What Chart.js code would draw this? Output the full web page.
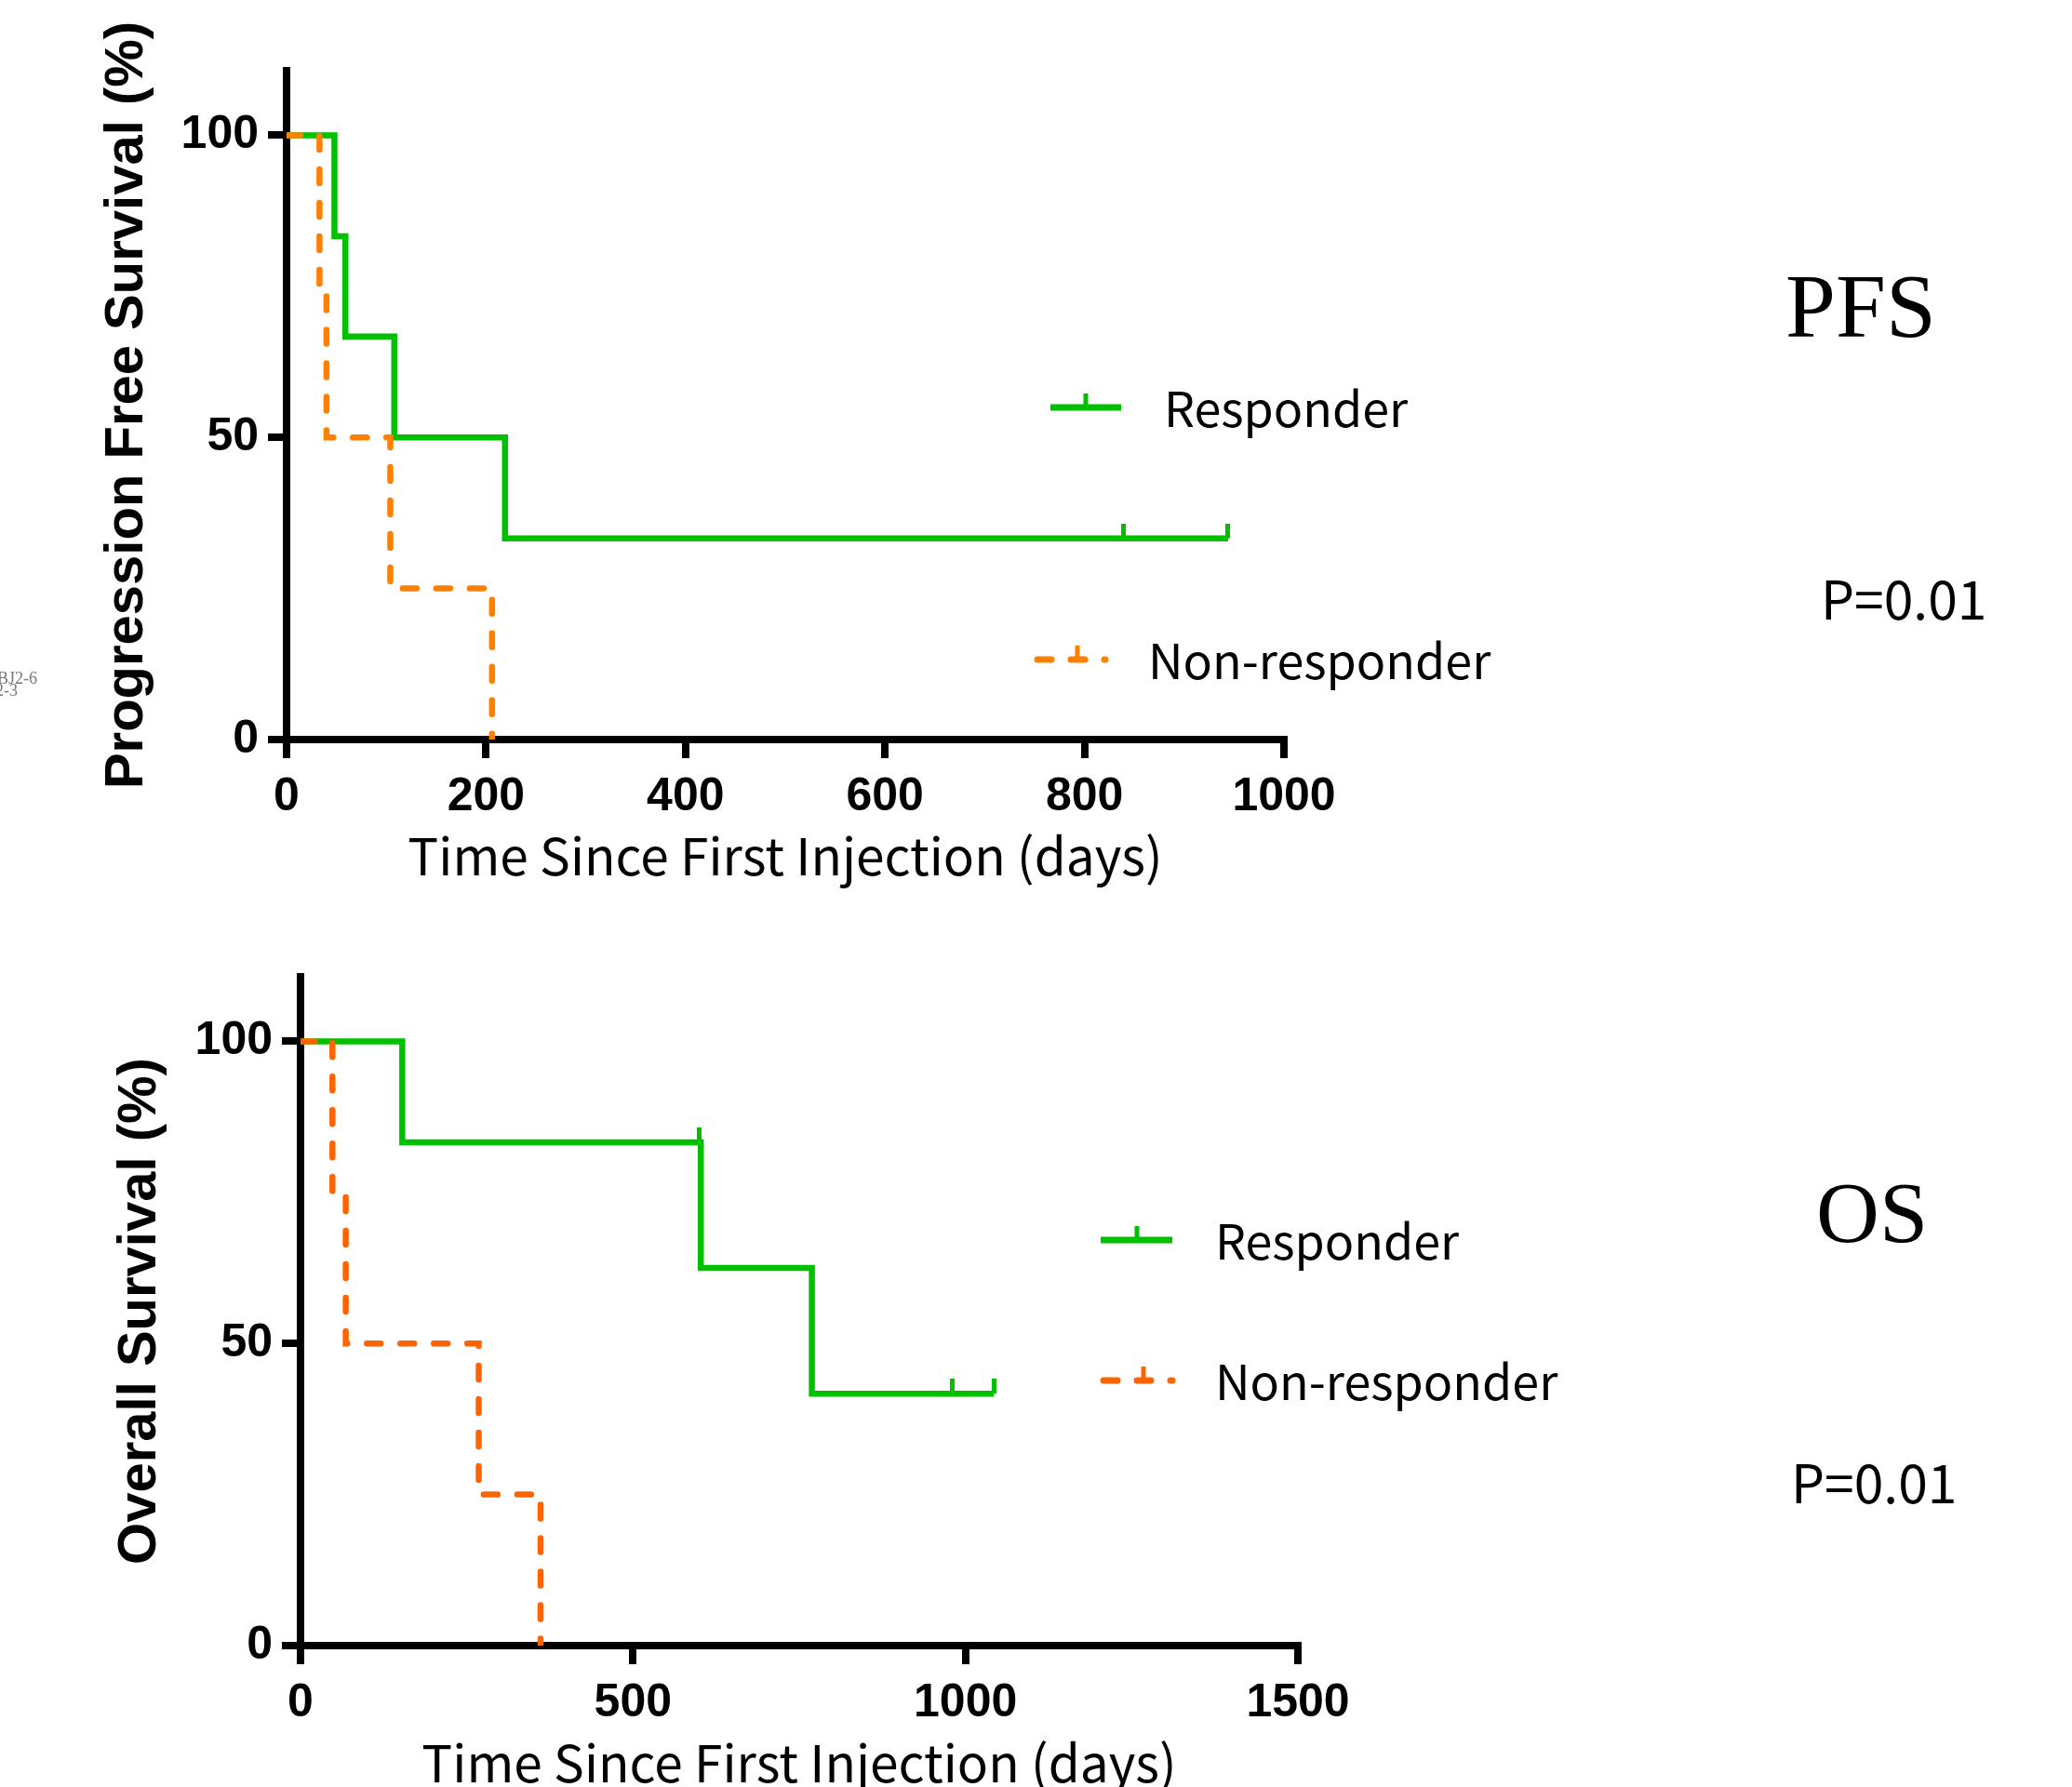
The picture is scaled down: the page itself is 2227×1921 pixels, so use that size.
<!DOCTYPE html>
<html>
<head>
<meta charset="utf-8">
<script src="https://cdn.jsdelivr.net/npm/chart.js@4.4.1/dist/chart.umd.min.js"></script>
<style>
  html, body { margin: 0; padding: 0; background: #fff; }
  #page { position: relative; width: 2227px; height: 1921px; overflow: hidden; background: #fff; }
  canvas { position: absolute; left: 0; }
</style>
</head>
<body>
<div id="page">
  <canvas id="pfs" width="2227" height="960" style="top:0px"></canvas>
  <canvas id="os" width="2227" height="961" style="top:960px"></canvas>
</div>
<script>
// tick labels
const pfsXTicks = [0, 200, 400, 600, 800, 1000];
const osXTicks = [0, 500, 1000, 1500];
const yTicks = [0, 50, 100];

// PFS - Kaplan-Meier steps (days, % surviving)
const pfsRespDays = [0, 48, 59, 108, 219, 944];
const pfsRespSurv = [100, 83.3, 66.7, 50, 33.3, 33.3];
const pfsRespCensorDays = [839, 944];
const pfsRespCensorSurv = [33.3, 33.3];
const pfsNonDays = [0, 33, 40, 104, 206];
const pfsNonSurv = [100, 75, 50, 25, 0];

// OS
const osRespDays = [0, 153, 602, 769, 1043];
const osRespSurv = [100, 83.3, 62.5, 41.7, 41.7];
const osRespCensorDays = [600, 980, 1043];
const osRespCensorSurv = [83.3, 41.7, 41.7];
const osNonDays = [0, 48, 68, 268, 361];
const osNonSurv = [100, 75, 50, 25, 0];

const GREEN = '#00c000';
const CJK = "'Noto Sans CJK JP', 'Noto Sans', sans-serif";
const SANS = "'Liberation Sans', Arial, sans-serif";
const SERIF = "'Liberation Serif', 'Times New Roman', serif";

function pts(xs, ys) {
  return xs.map((x, i) => ({ x: x, y: ys[i] }));
}

// little upward tick used for censored observations
function censorMark(color) {
  const c = document.createElement('canvas');
  c.width = 5;
  c.height = 32;
  const g = c.getContext('2d');
  g.fillStyle = color;
  g.fillRect(0, 0, 5, 16);
  return c;
}

// legend icons + free text annotations
const kmNotes = {
  id: 'kmNotes',
  afterDraw(chart, args, opts) {
    const ctx = chart.ctx;
    (opts.icons || []).forEach(it => {
      ctx.save();
      ctx.strokeStyle = it.color;
      ctx.lineWidth = 7;
      if (it.dash) {
        ctx.setLineDash([15, 21]);
        ctx.lineCap = 'round';
      }
      ctx.beginPath();
      ctx.moveTo(it.x1, it.y);
      ctx.lineTo(it.x2, it.y);
      ctx.stroke();
      ctx.fillStyle = it.color;
      ctx.fillRect(it.tx - 2.5, it.y - 15, 5, 15);
      ctx.restore();
    });
    (opts.texts || []).forEach(t => {
      ctx.save();
      ctx.font = t.font;
      ctx.fillStyle = t.color || '#000';
      ctx.textAlign = 'left';
      ctx.textBaseline = 'alphabetic';
      ctx.fillText(t.text, t.x, t.y);
      ctx.restore();
    });
  }
};

function kmChart(id, g) {
  const axisStyle = {
    grid: { display: true, drawOnChartArea: false, drawTicks: true, tickLength: 20, lineWidth: 8, color: '#000' },
    border: { display: true, color: '#000', width: 8 }
  };
  return new Chart(document.getElementById(id), {
    type: 'line',
    data: {
      datasets: [
        {
          label: 'Non-responder',
          data: pts(g.nonDays, g.nonSurv),
          borderColor: g.orange,
          borderWidth: 6.5,
          borderDash: [15, 21],
          borderCapStyle: 'round',
          stepped: 'before',
          pointRadius: 0,
          fill: false
        },
        {
          label: 'Responder censored',
          data: pts(g.censorDays, g.censorSurv),
          showLine: false,
          pointStyle: censorMark(GREEN),
          pointRadius: 7,
          pointHoverRadius: 7
        },
        {
          label: 'Responder',
          data: pts(g.respDays, g.respSurv),
          borderColor: GREEN,
          borderWidth: 6.5,
          stepped: 'before',
          pointRadius: 0,
          fill: false
        }
      ]
    },
    options: {
      responsive: false,
      animation: false,
      devicePixelRatio: 1,
      events: [],
      layout: { padding: g.padding },
      plugins: {
        legend: { display: false },
        tooltip: { enabled: false },
        kmNotes: { icons: g.icons, texts: g.texts }
      },
      scales: {
        x: Object.assign({
          type: 'linear',
          min: 0,
          max: g.xTicks[g.xTicks.length - 1],
          afterBuildTicks: s => { s.ticks = g.xTicks.map(v => ({ value: v })); },
          afterFit: s => { s.height = g.xAxisH; },
          ticks: {
            color: '#000',
            font: { family: SANS, weight: 'bold', size: 50 },
            padding: 12,
            maxRotation: 0,
            autoSkip: false,
            callback: v => String(v)
          },
          title: {
            display: true,
            text: 'Time Since First Injection (days)',
            color: '#000',
            font: { family: CJK, size: 55, lineHeight: 0.8 },
            padding: { top: 0, bottom: 0 }
          }
        }, axisStyle),
        y: Object.assign({
          type: 'linear',
          min: 0,
          max: 110.7,
          afterBuildTicks: s => { s.ticks = yTicks.map(v => ({ value: v })); },
          afterFit: s => { s.width = g.yAxisW; },
          ticks: {
            color: '#000',
            font: { family: SANS, weight: 'bold', size: 50 },
            padding: 10,
            callback: v => String(v)
          },
          title: {
            display: true,
            text: g.yTitle,
            color: '#000',
            font: { family: SANS, weight: 'bold', size: 58, lineHeight: 1 },
            padding: { top: g.yTitlePad, bottom: 0 }
          }
        }, axisStyle)
      }
    },
    plugins: [kmNotes]
  });
}

kmChart('pfs', {
  respDays: pfsRespDays, respSurv: pfsRespSurv,
  censorDays: pfsRespCensorDays, censorSurv: pfsRespCensorSurv,
  nonDays: pfsNonDays, nonSurv: pfsNonSurv,
  orange: '#ff8000',
  xTicks: pfsXTicks,
  yTitle: 'Progression Free Survival (%)',
  yTitlePad: 108,
  yAxisW: 308,
  xAxisH: 147,
  padding: { left: 0, top: 76, right: 847, bottom: 18 },
  icons: [
    { x1: 1129, x2: 1205, y: 438, tx: 1167, color: GREEN, dash: false },
    { x1: 1115, x2: 1188, y: 709, tx: 1158, color: '#ff8000', dash: true }
  ],
  texts: [
    { text: 'Responder', x: 1251, y: 459, font: '52px ' + CJK },
    { text: 'Non-responder', x: 1234, y: 730, font: '52px ' + CJK },
    { text: 'PFS', x: 1919, y: 362, font: '97px ' + SERIF },
    { text: 'P=0.01', x: 1957, y: 666, font: '57px ' + CJK },
    { text: 'BJ2-6', x: -3, y: 735, font: '18px ' + SERIF, color: '#777' },
    { text: '2-3', x: -5, y: 748, font: '18px ' + SERIF, color: '#777' }
  ]
});

kmChart('os', {
  respDays: osRespDays, respSurv: osRespSurv,
  censorDays: osRespCensorDays, censorSurv: osRespCensorSurv,
  nonDays: osNonDays, nonSurv: osNonSurv,
  orange: '#ff6400',
  xTicks: osXTicks,
  yTitle: 'Overall Survival (%)',
  yTitlePad: 122,
  yAxisW: 323,
  xAxisH: 148,
  padding: { left: 0, top: 90, right: 832, bottom: 4 },
  icons: [
    { x1: 1183, x2: 1260, y: 373, tx: 1222, color: GREEN, dash: false },
    { x1: 1186, x2: 1260, y: 524, tx: 1229, color: '#ff6400', dash: true }
  ],
  texts: [
    { text: 'Responder', x: 1306, y: 394, font: '52px ' + CJK },
    { text: 'Non-responder', x: 1306, y: 545, font: '52px ' + CJK },
    { text: 'OS', x: 1952, y: 375, font: '94px ' + SERIF },
    { text: 'P=0.01', x: 1925, y: 656, font: '57px ' + CJK }
  ]
});
</script>
</body>
</html>
